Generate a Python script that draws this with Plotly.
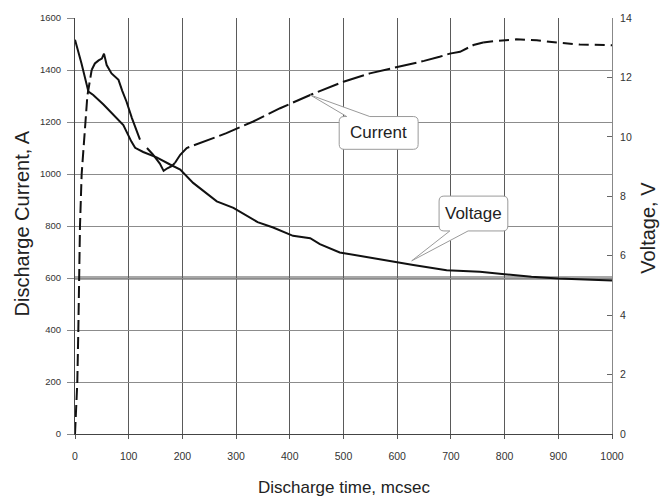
import plotly.graph_objects as go

# Discharge current (A) vs time (mcsec), drawn in pieces with their own dash styles
t_cur_rise = [0, 2, 4.3, 6.2, 7.4, 9.3, 12.4, 15.5, 18.6, 23, 31]
i_cur_rise = [0, 100, 200, 400, 600, 800, 1000, 1100, 1200, 1300, 1400]

t_cur_peak = [31, 37, 44, 50, 54, 59, 68, 75, 81, 88, 96, 106, 114, 121]
i_cur_peak = [1400, 1425, 1437, 1444, 1463, 1419, 1387, 1375, 1362, 1320, 1278, 1215, 1170, 1132]

t_cur_dip = [134, 145, 158, 165, 172, 180, 186]
i_cur_dip = [1100, 1075, 1040, 1012, 1022, 1030, 1042]

t_cur_mid = [186, 196, 208, 233, 282, 332, 382, 438, 500, 549, 600, 650, 679, 698, 717, 742, 760]
i_cur_mid = [1042, 1074, 1100, 1119, 1157, 1202, 1253, 1304, 1355, 1387, 1410, 1435, 1451, 1463, 1470, 1496, 1506]

t_cur_tail = [760, 779, 822, 860, 897, 940, 990, 1000]
i_cur_tail = [1506, 1511, 1518, 1514, 1506, 1498, 1496, 1495]

# Cell voltage (V) vs time (mcsec)
t_volt = [0, 12, 25, 34, 53, 71, 90, 105, 112, 127, 152, 177, 196, 220, 245, 264, 295, 320,
          340, 369, 406, 438, 456, 493, 531, 587, 630, 692, 754, 800, 850, 900, 950, 1000]
v_volt = [13.27, 12.48, 11.52, 11.41, 11.09, 10.75, 10.40, 9.84, 9.63, 9.49, 9.31, 9.07, 8.90,
          8.45, 8.09, 7.83, 7.61, 7.33, 7.13, 6.95, 6.67, 6.59, 6.39, 6.11, 5.99, 5.83, 5.69,
          5.51, 5.46, 5.38, 5.29, 5.23, 5.20, 5.17]

reference_current = 600  # A

x_ticks = list(range(0, 1001, 100))
y_ticks = list(range(0, 1601, 200))
y2_ticks = list(range(0, 15, 2))

FONT = "Arial, Liberation Sans, sans-serif"
INK = "#111111"

fig = go.Figure()

current_parts = [
    (t_cur_rise, i_cur_rise, "12px,5px"),
    (t_cur_peak, i_cur_peak, "solid"),
    (t_cur_dip, i_cur_dip, "solid"),
    (t_cur_mid, i_cur_mid, "22px,5px"),
    (t_cur_tail, i_cur_tail, "10px,6px"),
]
for tx, iy, dash in current_parts:
    fig.add_trace(go.Scatter(x=tx, y=iy, mode="lines", yaxis="y",
                             line=dict(color=INK, width=2, dash=dash),
                             showlegend=False, hoverinfo="skip"))

fig.add_trace(go.Scatter(x=t_volt, y=v_volt, mode="lines", yaxis="y2",
                         line=dict(color=INK, width=2),
                         showlegend=False, hoverinfo="skip"))

# heavy reference line across the plot
fig.add_shape(type="line", xref="x", yref="y", x0=x_ticks[0], x1=x_ticks[-1],
              y0=reference_current, y1=reference_current,
              line=dict(color="#a8a8a8", width=4), layer="below")


def callout_path(x0, x1, y0, y1, tip, base, top_edge):
    """Rounded box with a wedge pointing at tip=(x, y); base=(xa, xb) on the edge."""
    rx, ry = 9.0, 19.0
    px, py = tip
    xa, xb = base
    if top_edge:
        return (f"M {x0+rx},{y1} L {xa},{y1} L {px},{py} L {xb},{y1} L {x1-rx},{y1} "
                f"Q {x1},{y1} {x1},{y1-ry} L {x1},{y0+ry} Q {x1},{y0} {x1-rx},{y0} "
                f"L {x0+rx},{y0} Q {x0},{y0} {x0},{y0+ry} L {x0},{y1-ry} "
                f"Q {x0},{y1} {x0+rx},{y1} Z")
    return (f"M {x0+rx},{y1} L {x1-rx},{y1} Q {x1},{y1} {x1},{y1-ry} L {x1},{y0+ry} "
            f"Q {x1},{y0} {x1-rx},{y0} L {xb},{y0} L {px},{py} L {xa},{y0} "
            f"L {x0+rx},{y0} Q {x0},{y0} {x0},{y0+ry} L {x0},{y1-ry} "
            f"Q {x0},{y1} {x0+rx},{y1} Z")


callouts = [
    ("Current", (492, 639, 1095, 1221), (438, 1304), (506, 549), True),
    ("Voltage", (678, 806, 781, 915), (627, 666), (698, 732), False),
]
for label, (x0, x1, y0, y1), tip, base, top_edge in callouts:
    fig.add_shape(type="path", xref="x", yref="y",
                  path=callout_path(x0, x1, y0, y1, tip, base, top_edge),
                  line=dict(color="#9a9a9a", width=1), fillcolor="white", layer="above")
    fig.add_annotation(x=(x0 + x1) / 2, y=(y0 + y1) / 2, xref="x", yref="y",
                       text=label, showarrow=False,
                       font=dict(family=FONT, size=17, color="#222222"))

# axis titles
fig.add_annotation(x=0.5, y=-0.129, xref="paper", yref="paper", text="Discharge time, mcsec",
                   showarrow=False, xanchor="center", yanchor="middle",
                   font=dict(family=FONT, size=17, color="#222222"))
fig.add_annotation(x=-0.0987, y=0.506, xref="paper", yref="paper", text="Discharge Current, A",
                   showarrow=False, textangle=-90, xanchor="center", yanchor="middle",
                   font=dict(family=FONT, size=20, color="#222222"))
fig.add_annotation(x=1.067, y=0.496, xref="paper", yref="paper", text="Voltage, V",
                   showarrow=False, textangle=-90, xanchor="center", yanchor="middle",
                   font=dict(family=FONT, size=20, color="#222222"))

fig.update_layout(
    width=666, height=501,
    margin=dict(l=75, r=54, t=16, b=67),
    paper_bgcolor="white", plot_bgcolor="white",
    showlegend=False,
    xaxis=dict(range=[0, 1000], tickvals=x_ticks, ticktext=[str(v) for v in x_ticks],
               showgrid=True, gridcolor="#5a5a5a", gridwidth=1,
               showline=True, linecolor="#444444", linewidth=1,
               ticks="outside", ticklen=4, tickcolor="#555555",
               ticklabelstandoff=8, zeroline=False,
               tickfont=dict(family=FONT, size=10.5, color="#333333")),
    yaxis=dict(range=[0, 1600], tickvals=y_ticks, ticktext=[str(v) for v in y_ticks],
               showgrid=True, gridcolor="#8c8c8c", gridwidth=1.3,
               showline=True, linecolor="#444444", linewidth=1,
               ticks="outside", ticklen=7, tickcolor="#888888",
               ticklabelstandoff=4, zeroline=False,
               tickfont=dict(family=FONT, size=9.5, color="#333333")),
    yaxis2=dict(range=[0, 14], tickvals=y2_ticks, ticktext=[str(v) for v in y2_ticks],
                overlaying="y", side="right", showgrid=False,
                showline=True, linecolor="#888888", linewidth=1,
                ticks="inside", ticklen=5, tickcolor="#666666",
                ticklabelstandoff=5, zeroline=False,
                tickfont=dict(family=FONT, size=10.5, color="#333333")),
)

fig.write_html("out.html")
